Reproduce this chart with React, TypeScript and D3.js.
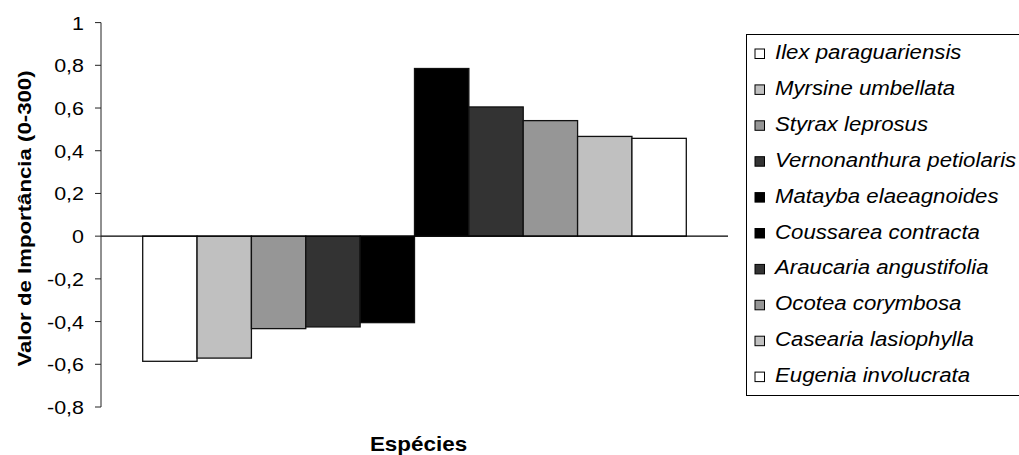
import React from "react";
import * as d3 from "d3";

const species = [
  "Ilex paraguariensis",
  "Myrsine umbellata",
  "Styrax leprosus",
  "Vernonanthura petiolaris",
  "Matayba elaeagnoides",
  "Coussarea contracta",
  "Araucaria angustifolia",
  "Ocotea corymbosa",
  "Casearia lasiophylla",
  "Eugenia involucrata",
];
const values = [-0.586, -0.571, -0.433, -0.425, -0.405, 0.785, 0.605, 0.541, 0.467, 0.458];
const fills = ["#FFFFFF", "#C0C0C0", "#969696", "#333333", "#000000", "#000000", "#333333", "#969696", "#C0C0C0", "#FFFFFF"];
const yTicks = [1, 0.8, 0.6, 0.4, 0.2, 0, -0.2, -0.4, -0.6, -0.8];
const yLabel = "Valor de Importância (0-300)";
const xLabel = "Espécies";

const W = 1019;
const H = 455;
const FONT = "'Liberation Sans', Arial, Helvetica, sans-serif";

const fmt = (v: number) => {
  if (Math.abs(v) < 1e-9) return "0";
  return String(+v.toFixed(1)).replace(".", ",");
};

export default function App() {
  const axisX = 101;
  const plotRight = 728;
  const y = d3.scaleLinear().domain([-0.8, 1]).range([407, 22.6]);
  const x = d3.scaleBand<string>().domain(species).range([142.7, 686.3]).paddingInner(0).paddingOuter(0);
  const y0 = y(0);

  const legendX = 746.5;
  const legendTop = 34.5;
  const legendBottom = 395.5;
  const legendStep = 35.9;
  const legendBase0 = 59;

  return (
    <div style={{ position: "fixed", left: 0, top: 0, width: W, height: H, background: "#fff" }}>
      <svg width={W} height={H} style={{ display: "block", fontFamily: FONT }}>
        <rect x={0} y={0} width={W} height={H} fill="#fff" />
        {species.map((s, i) => {
          const v = values[i];
          const top = Math.min(y(v), y0);
          const h = Math.abs(y(v) - y0);
          return (
            <rect
              key={s}
              x={x(s)!}
              y={top}
              width={x.bandwidth()}
              height={h}
              fill={fills[i]}
              stroke="#111"
              strokeWidth={1.3}
            />
          );
        })}
        <line x1={axisX} x2={plotRight} y1={y0} y2={y0} stroke="#000" strokeWidth={1.2} />
        <line x1={axisX} x2={axisX} y1={y(1)} y2={y(-0.8)} stroke="#222" strokeWidth={1} />
        {yTicks.map((t) => (
          <g key={t}>
            <line x1={axisX - 6} x2={axisX} y1={y(t)} y2={y(t)} stroke="#222" strokeWidth={1} />
            <g transform={`translate(84,${y(t)}) scale(1.13,1)`}>
              <text textAnchor="end" dy="0.37em" fontSize={19} fill="#000">
                {fmt(t)}
              </text>
            </g>
          </g>
        ))}
        <g transform={`translate(31,218.5) rotate(-90) scale(1.17,1)`}>
          <text textAnchor="middle" fontSize={19} fontWeight="bold" fill="#000">
            {yLabel}
          </text>
        </g>
        <g transform={`translate(418.5,451) scale(1.15,1)`}>
          <text textAnchor="middle" fontSize={19.5} fontWeight="bold" fill="#000">
            {xLabel}
          </text>
        </g>
        <rect
          x={legendX}
          y={legendTop}
          width={W + 10 - legendX}
          height={legendBottom - legendTop}
          fill="#fff"
          stroke="#000"
          strokeWidth={1}
        />
        {species.map((s, i) => {
          const base = legendBase0 + i * legendStep;
          return (
            <g key={s}>
              <rect x={755} y={base - 10} width={9.5} height={9.5} fill={fills[i]} stroke="#000" strokeWidth={1} />
              <g transform={`translate(775,${base}) scale(1.14,1)`}>
                <text fontSize={19.5} fontStyle="italic" fill="#000">
                  {s}
                </text>
              </g>
            </g>
          );
        })}
      </svg>
    </div>
  );
}
